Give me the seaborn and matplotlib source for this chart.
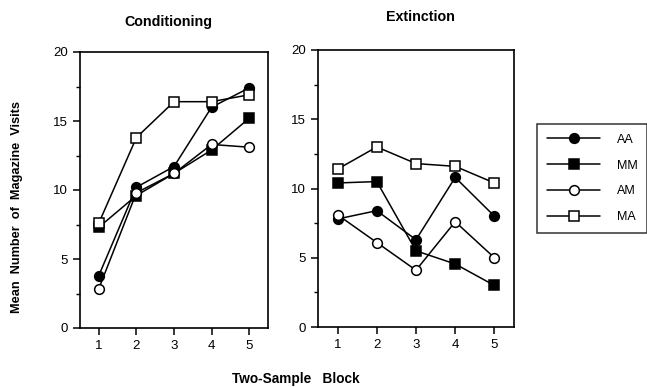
import matplotlib
matplotlib.use("Agg")
import matplotlib.pyplot as plt
import seaborn as sns
import pandas as pd
from matplotlib.lines import Line2D

sns.set_style("ticks")
plt.rcParams['font.family'] = ['Liberation Sans', 'DejaVu Sans']
plt.rcParams['text.color'] = 'black'
plt.rcParams['axes.labelcolor'] = 'black'

blocks = [1, 2, 3, 4, 5]
groups = ["AA", "MM", "AM", "MA"]

cond_AA = [3.8, 10.2, 11.7, 16.0, 17.4]
cond_MM = [7.3, 9.6, 11.2, 12.9, 15.2]
cond_AM = [2.85, 9.8, 11.2, 13.3, 13.1]
cond_MA = [7.6, 13.8, 16.4, 16.4, 16.9]

ext_AA = [7.8, 8.4, 6.3, 10.8, 8.0]
ext_MM = [10.4, 10.5, 5.5, 4.55, 3.0]
ext_AM = [8.1, 6.1, 4.1, 7.6, 5.0]
ext_MA = [11.4, 13.0, 11.8, 11.6, 10.4]

markers = {"AA": "o", "MM": "s", "AM": "o", "MA": "s"}
faces = {"AA": "black", "MM": "black", "AM": "white", "MA": "white"}

def make_df(vals):
    rows = []
    for g, v in zip(groups, vals):
        for b, y in zip(blocks, v):
            rows.append({"block": b, "group": g, "visits": y})
    return pd.DataFrame(rows)

df_cond = make_df([cond_AA, cond_MM, cond_AM, cond_MA])
df_ext = make_df([ext_AA, ext_MM, ext_AM, ext_MA])

fig = plt.figure(figsize=(6.47, 3.87), dpi=100)
ax1 = fig.add_axes([80/647, 1-328/387, 188/647, 276/387])
ax2 = fig.add_axes([318/647, 1-327/387, 196/647, 277/387])

for ax, df in [(ax1, df_cond), (ax2, df_ext)]:
    for g in groups:
        sub = df[df.group == g]
        sns.lineplot(data=sub, x="block", y="visits", ax=ax, color="black",
                     marker=markers[g], markerfacecolor=faces[g],
                     markeredgecolor="black", markeredgewidth=1.1,
                     markersize=7, linewidth=1.1)
    ax.set_xlim(0.5, 5.5)
    ax.set_ylim(0, 20)
    ax.set_xticks(blocks)
    ax.set_yticks([0, 5, 10, 15, 20])
    ax.set_yticks([2.5, 7.5, 12.5, 17.5], minor=True)
    ax.tick_params(axis="both", which="major", direction="out", length=5,
                   width=1.1, labelsize=9.5, color="black", labelcolor="black")
    ax.tick_params(axis="y", which="minor", direction="out", length=3, width=1.0,
                   color="black")
    ax.set_xlabel("")
    ax.set_ylabel("")
    for s in ax.spines.values():
        s.set_visible(True)
        s.set_linewidth(1.2)
        s.set_color("black")
    ax.set_facecolor("white")

fig.text(168/647, 1-22/387, "Conditioning", ha="center", va="center",
         fontsize=10.3, fontweight="bold", color="black")
fig.text(420/647, 1-17/387, "Extinction", ha="center", va="center",
         fontsize=10.3, fontweight="bold", color="black")
fig.text(296/647, 1-379/387, "Two-Sample   Block", ha="center", va="center",
         fontsize=9.8, fontweight="bold", color="black")
fig.text(17/647, 1-207/387, "Mean  Number  of  Magazine  Visits", ha="center",
         va="center", rotation=90, fontsize=9.2, fontweight="bold", color="black")

handles = [Line2D([], [], color="black", marker=markers[g], markerfacecolor=faces[g],
                  markeredgecolor="black", markersize=7, linewidth=1.1,
                  markeredgewidth=1.1) for g in groups]
leg = fig.legend(handles, groups, loc="center", bbox_to_anchor=(592/647, 1-178.5/387),
                 frameon=True, fancybox=False, edgecolor="black", fontsize=9,
                 handlelength=4.3, labelspacing=1.1, borderpad=0.8,
                 handletextpad=1.3, borderaxespad=0)
leg.get_frame().set_linewidth(1.1)
for t in leg.get_texts():
    t.set_color("black")

fig.savefig("out.png", dpi=100)
